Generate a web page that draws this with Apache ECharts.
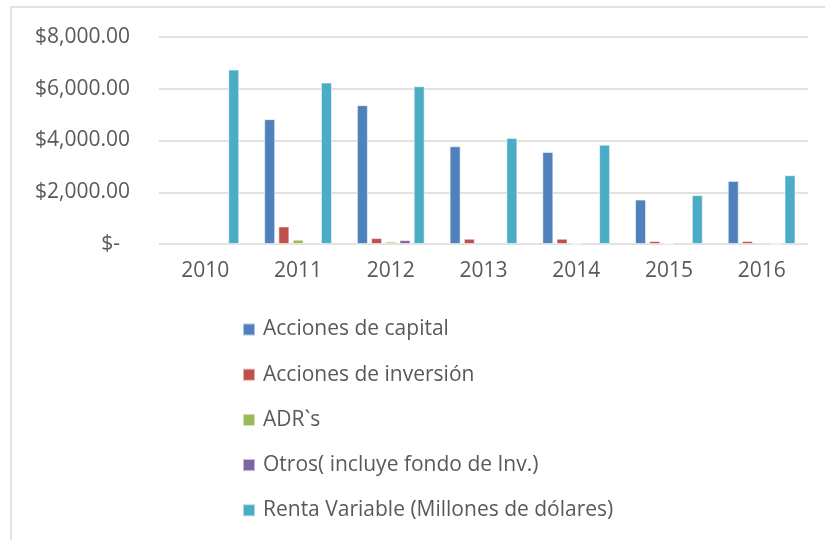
<!DOCTYPE html>
<html>
<head>
<meta charset="utf-8">
<script src="https://cdn.jsdelivr.net/npm/echarts@6/dist/echarts.min.js"></script>
<style>
  html, body { margin: 0; padding: 0; background: #fff; }
  #chart { width: 825px; height: 540px; }
</style>
</head>
<body>
<div id="chart"></div>
<script>
// 年份
const years = ['2010', '2011', '2012', '2013', '2014', '2015', '2016']
// 各系列数值
const accionesCapital = [0, 4826, 5366, 3775, 3555, 1718, 2438]
const accionesInversion = [0, 678, 231, 204, 204, 115, 115]
const adrs = [0, 166, 90, 0, 20, 30, 60]
const otros = [0, 0, 150, 0, 0, 0, 15]
const rentaVariable = [6740, 6240, 6097, 4095, 3837, 1887, 2658]
const seriesNames = [
  'Acciones de capital',
  'Acciones de inversión',
  'ADR`s',
  'Otros( incluye fondo de Inv.)',
  'Renta Variable (Millones de dólares)'
]
const colors = ['#4F81BD', '#C0504D', '#9BBB59', '#8064A2', '#4BACC6']
const yTicks = { min: 0, max: 8000, interval: 2000 }

const chart = echarts.init(document.getElementById('chart'))

const fmt = function(v) {
  if (v === 0) return '{z|$-}'
  return '$' + v.toLocaleString('en-US', { minimumFractionDigits: 2, maximumFractionDigits: 2 })
}

const allData = [accionesCapital, accionesInversion, adrs, otros, rentaVariable]
const series = allData.map(function(d, i) {
  return {
    name: seriesNames[i],
    type: 'bar',
    barWidth: 11,
    barGap: '29%',
    // 0 值不画（否则描边会留下一条线）
    data: d.map(function(v) { return v === 0 ? '-' : v }),
    itemStyle: {
      color: colors[i],
      borderColor: 'rgba(255,255,255,0.55)',
      borderWidth: 1
    }
  }
})

chart.setOption({
  animation: false,
  textStyle: { fontFamily: 'Open Sans' },
  graphic: [{
    type: 'rect',
    shape: { x: 11, y: 7, width: 830, height: 550 },
    style: { fill: 'none', stroke: '#d9d9d9', lineWidth: 1.5 },
    silent: true
  }],
  grid: { left: 159, right: 17, top: 37, bottom: 296, containLabel: false },
  legend: {
    orient: 'vertical',
    left: 242,
    top: 319,
    padding: 0,
    icon: 'rect',
    itemWidth: 12,
    itemHeight: 12,
    itemGap: 24.2,
    data: seriesNames,
    textStyle: { color: '#595959', fontSize: 21, fontFamily: 'Open Sans', padding: [0, 0, 0, 3] }
  },
  xAxis: {
    type: 'category',
    data: years,
    axisLine: { show: false },
    axisTick: { show: false },
    axisLabel: { color: '#595959', fontSize: 21, margin: 17 }
  },
  yAxis: {
    type: 'value',
    min: yTicks.min,
    max: yTicks.max,
    interval: yTicks.interval,
    axisLine: { show: false },
    axisTick: { show: false },
    splitLine: { lineStyle: { color: '#d9d9d9', width: 1.5 } },
    axisLabel: {
      color: '#595959',
      fontSize: 21,
      margin: 29,
      formatter: fmt,
      rich: { z: { fontSize: 21, color: '#595959', padding: [0, 10, 0, 0] } }
    }
  },
  series: series
})
</script>
</body>
</html>
